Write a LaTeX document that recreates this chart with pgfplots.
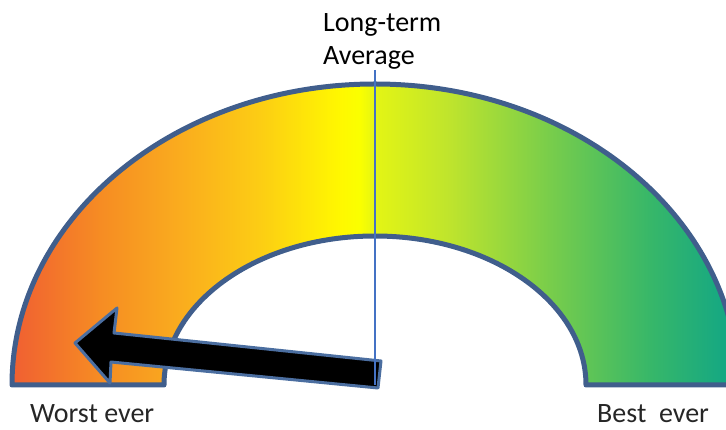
\documentclass[border=0pt]{standalone}
\usepackage{pgfplots}
\pgfplotsset{compat=1.18}
\usepackage{fontspec}
\setmainfont{Carlito}

% band colours, left (worst) to right (best)
\definecolor{g0}{RGB}{240,95,50}
\definecolor{g1}{RGB}{246,140,35}
\definecolor{g2}{RGB}{250,172,30}
\definecolor{g3}{RGB}{252,205,20}
\definecolor{g4}{RGB}{255,248,0}
\definecolor{g5}{RGB}{250,255,0}
\definecolor{g6}{RGB}{228,245,20}
\definecolor{g7}{RGB}{190,228,45}
\definecolor{g8}{RGB}{120,205,75}
\definecolor{g9}{RGB}{55,183,105}
\definecolor{g10}{RGB}{15,165,135}
\definecolor{rim}{RGB}{64,94,140}
\definecolor{arrowrim}{RGB}{75,110,160}
\definecolor{avgline}{RGB}{68,114,196}

\pgfdeclarehorizontalshading{gaugeband}{100bp}{%
  color(0bp)=(g0); color(25bp)=(g0);
  color(31.06bp)=(g1); color(36.57bp)=(g2); color(42.08bp)=(g3);
  color(47.59bp)=(g4); color(48.97bp)=(g5); color(50bp)=(g6);
  color(55.17bp)=(g7); color(62.05bp)=(g8); color(68.94bp)=(g9);
  color(75bp)=(g10); color(100bp)=(g10)}

\begin{document}
\begin{tikzpicture}
\begin{axis}[
  x=1pt, y=1pt,
  xmin=0, xmax=726, ymin=0, ymax=430,
  hide axis,
  clip=true,
]
  \clip (axis cs:0,0) rectangle (axis cs:726,430);

  % gauge band (semi-annulus)
  \path[shading=gaugeband, draw=rim, line width=5pt, line join=round]
    (axis cs:12,45) arc[start angle=180, end angle=0, x radius=363, y radius=301]
    -- (axis cs:586,45)
    arc[start angle=0, end angle=180, x radius=211, y radius=149]
    -- cycle;

  % pointer
  \addplot[fill=black, draw=arrowrim, line width=3pt, line join=round]
    coordinates {(75,87) (117,122) (114,97) (381,69) (378,42) (111,68) (110,47)}
    -- cycle;

  % long-term average marker
  \addplot[avgline, line width=1.5pt] coordinates {(375,360) (375,45)};

  \node[anchor=base west, font=\fontsize{28}{34}\selectfont, inner sep=0pt]
    at (axis cs:323,398) {Long-term};
  \node[anchor=base west, font=\fontsize{28}{34}\selectfont, inner sep=0pt]
    at (axis cs:323,365) {Average};
  \node[anchor=base west, font=\fontsize{28}{34}\selectfont, inner sep=0pt, text=black!85]
    at (axis cs:30,7) {Worst ever};
  \node[anchor=base west, font=\fontsize{28}{34}\selectfont, inner sep=0pt, text=black!85]
    at (axis cs:597,7) {Best\ \ ever};
\end{axis}
\pgfresetboundingbox
\useasboundingbox (current axis.south west) rectangle (current axis.north east);
\end{tikzpicture}
\end{document}
